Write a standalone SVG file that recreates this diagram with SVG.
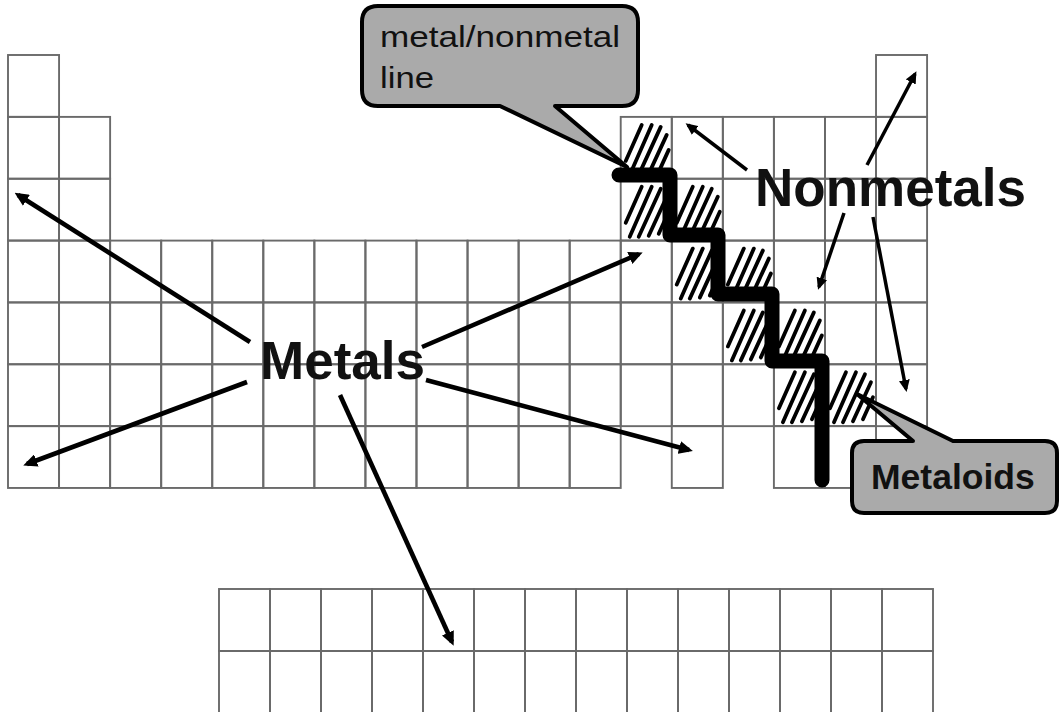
<svg xmlns="http://www.w3.org/2000/svg" xmlns:xlink="http://www.w3.org/1999/xlink" width="1060" height="712" viewBox="0 0 1060 712">
<style>
.cell{fill:none;stroke:#6a6a6a;stroke-width:1.9}
.hatch line{stroke:#000;stroke-width:3.8;stroke-linecap:round}
.stair{fill:none;stroke:#000;stroke-width:15;stroke-linecap:round;stroke-linejoin:round}
.arr{fill:none;stroke:#000;stroke-linecap:butt}
.big{stroke-width:4.6}
.small{stroke-width:3.5}
.callout{fill:#aaaaaa;stroke:#000;stroke-width:4;stroke-linejoin:round}
.lbl{font-family:"Liberation Sans",Arial,sans-serif;fill:#111}
.bold{font-weight:bold}
</style>
<defs>
<rect id="c" class="cell" width="51.06" height="61.86"/>
<rect id="l" class="cell" width="51" height="62"/>
<g id="h" class="hatch">
<line x1="5" y1="44" x2="21" y2="8"/>
<line x1="9" y1="58" x2="31" y2="8"/>
<line x1="18" y1="58" x2="40" y2="10"/>
<line x1="28" y1="57" x2="46" y2="18"/>
<line x1="38" y1="55" x2="48" y2="33"/>
</g>
<marker id="ab" markerUnits="userSpaceOnUse" markerWidth="14" markerHeight="13" viewBox="0 0 14 13" refX="10" refY="6.5" orient="auto"><path d="M0,0 L14,6.5 L0,13 Z" fill="#000"/></marker>
<marker id="as" markerUnits="userSpaceOnUse" markerWidth="12" markerHeight="11" viewBox="0 0 12 11" refX="9" refY="5.5" orient="auto"><path d="M0,0 L12,5.5 L0,11 Z" fill="#000"/></marker>
</defs>
<rect width="1060" height="712" fill="#fff"/>
<g id="main-table">
<use href="#c" x="8" y="55"/><use href="#c" x="876.02" y="55"/>
<use href="#c" x="8" y="116.9"/><use href="#c" x="59.06" y="116.9"/><use href="#c" x="620.72" y="116.9"/><use href="#c" x="671.78" y="116.9"/><use href="#c" x="722.84" y="116.9"/><use href="#c" x="773.9" y="116.9"/><use href="#c" x="824.96" y="116.9"/><use href="#c" x="876.02" y="116.9"/>
<use href="#c" x="8" y="178.7"/><use href="#c" x="59.06" y="178.7"/><use href="#c" x="620.72" y="178.7"/><use href="#c" x="671.78" y="178.7"/><use href="#c" x="722.84" y="178.7"/><use href="#c" x="773.9" y="178.7"/><use href="#c" x="824.96" y="178.7"/><use href="#c" x="876.02" y="178.7"/>
<use href="#c" x="8" y="240.6"/><use href="#c" x="59.06" y="240.6"/><use href="#c" x="110.12" y="240.6"/><use href="#c" x="161.18" y="240.6"/><use href="#c" x="212.24" y="240.6"/><use href="#c" x="263.3" y="240.6"/><use href="#c" x="314.36" y="240.6"/><use href="#c" x="365.42" y="240.6"/><use href="#c" x="416.48" y="240.6"/><use href="#c" x="467.54" y="240.6"/><use href="#c" x="518.6" y="240.6"/><use href="#c" x="569.66" y="240.6"/><use href="#c" x="620.72" y="240.6"/><use href="#c" x="671.78" y="240.6"/><use href="#c" x="722.84" y="240.6"/><use href="#c" x="773.9" y="240.6"/><use href="#c" x="824.96" y="240.6"/><use href="#c" x="876.02" y="240.6"/>
<use href="#c" x="8" y="302.4"/><use href="#c" x="59.06" y="302.4"/><use href="#c" x="110.12" y="302.4"/><use href="#c" x="161.18" y="302.4"/><use href="#c" x="212.24" y="302.4"/><use href="#c" x="263.3" y="302.4"/><use href="#c" x="314.36" y="302.4"/><use href="#c" x="365.42" y="302.4"/><use href="#c" x="416.48" y="302.4"/><use href="#c" x="467.54" y="302.4"/><use href="#c" x="518.6" y="302.4"/><use href="#c" x="569.66" y="302.4"/><use href="#c" x="620.72" y="302.4"/><use href="#c" x="671.78" y="302.4"/><use href="#c" x="722.84" y="302.4"/><use href="#c" x="773.9" y="302.4"/><use href="#c" x="824.96" y="302.4"/><use href="#c" x="876.02" y="302.4"/>
<use href="#c" x="8" y="364.3"/><use href="#c" x="59.06" y="364.3"/><use href="#c" x="110.12" y="364.3"/><use href="#c" x="161.18" y="364.3"/><use href="#c" x="212.24" y="364.3"/><use href="#c" x="263.3" y="364.3"/><use href="#c" x="314.36" y="364.3"/><use href="#c" x="365.42" y="364.3"/><use href="#c" x="416.48" y="364.3"/><use href="#c" x="467.54" y="364.3"/><use href="#c" x="518.6" y="364.3"/><use href="#c" x="569.66" y="364.3"/><use href="#c" x="620.72" y="364.3"/><use href="#c" x="671.78" y="364.3"/><use href="#c" x="722.84" y="364.3"/><use href="#c" x="773.9" y="364.3"/><use href="#c" x="824.96" y="364.3"/><use href="#c" x="876.02" y="364.3"/>
<use href="#c" x="8" y="426.1"/><use href="#c" x="59.06" y="426.1"/><use href="#c" x="110.12" y="426.1"/><use href="#c" x="161.18" y="426.1"/><use href="#c" x="212.24" y="426.1"/><use href="#c" x="263.3" y="426.1"/><use href="#c" x="314.36" y="426.1"/><use href="#c" x="365.42" y="426.1"/><use href="#c" x="416.48" y="426.1"/><use href="#c" x="467.54" y="426.1"/><use href="#c" x="518.6" y="426.1"/><use href="#c" x="569.66" y="426.1"/><use href="#c" x="671.78" y="426.1"/><use href="#c" x="773.9" y="426.1"/><use href="#c" x="824.96" y="426.1"/>
</g>
<g id="f-block">
<use href="#l" x="219" y="589"/><use href="#l" x="270" y="589"/><use href="#l" x="321" y="589"/><use href="#l" x="372" y="589"/><use href="#l" x="423" y="589"/><use href="#l" x="474" y="589"/><use href="#l" x="525" y="589"/><use href="#l" x="576" y="589"/><use href="#l" x="627" y="589"/><use href="#l" x="678" y="589"/><use href="#l" x="729" y="589"/><use href="#l" x="780" y="589"/><use href="#l" x="831" y="589"/><use href="#l" x="882" y="589"/>
<use href="#l" x="219" y="651"/><use href="#l" x="270" y="651"/><use href="#l" x="321" y="651"/><use href="#l" x="372" y="651"/><use href="#l" x="423" y="651"/><use href="#l" x="474" y="651"/><use href="#l" x="525" y="651"/><use href="#l" x="576" y="651"/><use href="#l" x="627" y="651"/><use href="#l" x="678" y="651"/><use href="#l" x="729" y="651"/><use href="#l" x="780" y="651"/><use href="#l" x="831" y="651"/><use href="#l" x="882" y="651"/>
</g>
<g id="metalloid-hatching">
<use href="#h" x="620.72" y="116.9"/>
<use href="#h" x="620.72" y="178.7"/>
<use href="#h" x="671.78" y="178.7"/>
<use href="#h" x="671.78" y="240.6"/>
<use href="#h" x="722.84" y="240.6"/>
<use href="#h" x="722.84" y="302.4"/>
<use href="#h" x="773.9" y="302.4"/>
<use href="#h" x="773.9" y="364.3"/>
<use href="#h" x="824.96" y="364.3"/>
</g>
<g id="staircase-line">
<path class="stair" d="M619 175 L670 175 L670 235 L718 235 L718 294 L772 294 L772 361 L822 361 L822 480"/>
</g>
<g id="connectors">
<line class="arr big" x1="250" y1="342" x2="18" y2="195" marker-end="url(#ab)"/>
<line class="arr big" x1="247" y1="382" x2="27" y2="464" marker-end="url(#ab)"/>
<line class="arr big" x1="422" y1="347" x2="639" y2="254" marker-end="url(#ab)"/>
<line class="arr big" x1="426" y1="380" x2="689" y2="450" marker-end="url(#ab)"/>
<line class="arr big" x1="340" y1="395" x2="452" y2="642" marker-end="url(#ab)"/>
<line class="arr small" x1="747" y1="170" x2="688" y2="125" marker-end="url(#as)"/>
<line class="arr small" x1="867" y1="165" x2="915" y2="74" marker-end="url(#as)"/>
<line class="arr small" x1="844" y1="213" x2="819" y2="287" marker-end="url(#as)"/>
<line class="arr small" x1="873" y1="217" x2="906" y2="389" marker-end="url(#as)"/>
</g>
<g id="label-metals">
<text class="lbl bold" x="260" y="379" font-size="53">Metals</text>
</g>
<g id="label-nonmetals">
<text class="lbl bold" x="755" y="206" font-size="53">Nonmetals</text>
</g>
<g id="callout-line">
<path class="callout" d="M378 6 H622 Q638 6 638 22 V90 Q638 106 622 106 H555 L627 167 L500 106 H378 Q362 106 362 90 V22 Q362 6 378 6 Z"/>
<text class="lbl" x="380" y="47" font-size="30" textLength="240" lengthAdjust="spacingAndGlyphs">metal/nonmetal</text>
<text class="lbl" x="380" y="88" font-size="30" textLength="54" lengthAdjust="spacingAndGlyphs">line</text>
</g>
<g id="callout-metaloids">
<path class="callout" d="M864 441 H913 L857 394 L953 441 H1045 Q1057 441 1057 453 V501 Q1057 513 1045 513 H864 Q852 513 852 501 V453 Q852 441 864 441 Z"/>
<text class="lbl bold" x="871" y="489" font-size="35.5">Metaloids</text>
</g>
</svg>
